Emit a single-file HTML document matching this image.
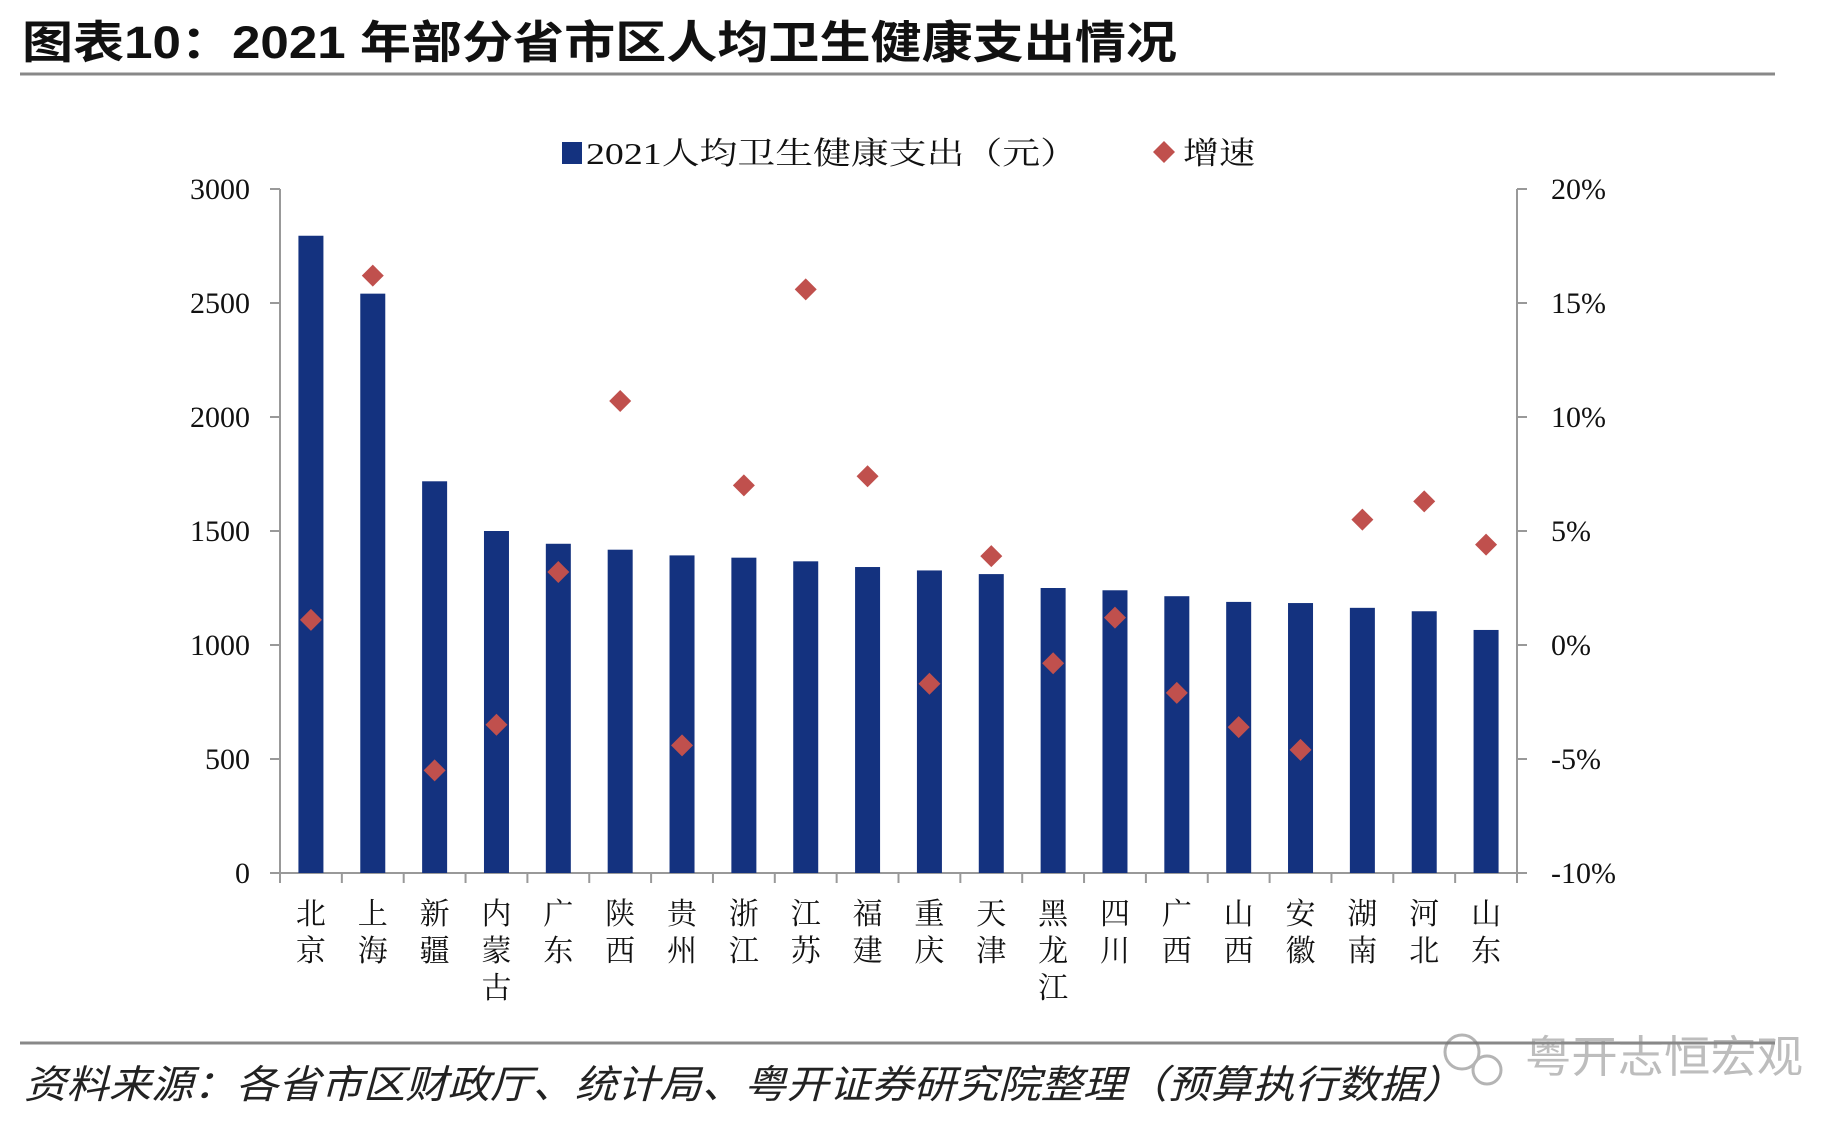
<!DOCTYPE html>
<html><head><meta charset="utf-8"><style>
body{margin:0;background:#fff;width:1828px;height:1130px;overflow:hidden}
svg{display:block}
</style></head><body>
<svg id="chart" width="1828" height="1130" xmlns="http://www.w3.org/2000/svg">
<text x="22" y="58" font-family="'Liberation Sans','Noto Sans CJK SC',sans-serif" font-size="45" font-weight="bold" fill="#111" textLength="1155" lengthAdjust="spacingAndGlyphs">图表10：2021 年部分省市区人均卫生健康支出情况</text>
<line x1="20" y1="74" x2="1775" y2="74" stroke="#888" stroke-width="3"/>
<g font-family="'Liberation Serif','Noto Serif CJK SC',serif" font-size="31" fill="#111">
<rect x="562" y="142" width="20" height="22" fill="#14327f"/>
<text x="586" y="164" textLength="492" lengthAdjust="spacingAndGlyphs">2021人均卫生健康支出（元）</text>
<path d="M1164 141 L1175 152 L1164 163 L1153 152 Z" fill="#c0504d"/>
<text x="1183" y="164" textLength="72" lengthAdjust="spacingAndGlyphs">增速</text>
</g>
<g id="axes"></g>
<g id="bars"></g>
<g id="points"></g>
<line x1="20" y1="1043" x2="1775" y2="1043" stroke="#888" stroke-width="3"/>
<text x="24" y="1098" font-family="'Liberation Sans','Noto Sans CJK SC',sans-serif" font-size="39" font-style="italic" fill="#222" textLength="1440" lengthAdjust="spacingAndGlyphs">资料来源：各省市区财政厅、统计局、粤开证券研究院整理（预算执行数据）</text>
<g opacity="0.55">
<circle cx="1462" cy="1052" r="17" fill="none" stroke="#777" stroke-width="3"/>
<circle cx="1487" cy="1070" r="14" fill="none" stroke="#777" stroke-width="3"/>
<text x="1525" y="1072" font-family="'Liberation Sans','Noto Sans CJK SC',sans-serif" font-size="44" fill="#888" textLength="278" lengthAdjust="spacingAndGlyphs">粤开志恒宏观</text>
</g>
</svg>
<script>
const categories=[["北","京"],["上","海"],["新","疆"],["内","蒙","古"],["广","东"],["陕","西"],["贵","州"],["浙","江"],["江","苏"],["福","建"],["重","庆"],["天","津"],["黑","龙","江"],["四","川"],["广","西"],["山","西"],["安","徽"],["湖","南"],["河","北"],["山","东"]];
const spending=[2795,2541,1718,1500,1444,1418,1393,1383,1367,1342,1327,1311,1250,1240,1214,1189,1184,1163,1148,1066];
const growth=[1.1,16.2,-5.5,-3.5,3.2,10.7,-4.4,7.0,15.6,7.4,-1.7,3.9,-0.8,1.2,-2.1,-3.6,-4.6,5.5,6.3,4.4];
const leftTicks=[0,500,1000,1500,2000,2500,3000];
const rightTicks=[-10,-5,0,5,10,15,20];
const rightTickLabels=["-10%","-5%","0%","5%","10%","15%","20%"];

const NS="http://www.w3.org/2000/svg";
const X0=280,X1=1517,Y0=873,Y1=189;
const bandW=(X1-X0)/categories.length;
const yL=v=>Y0-(v-0)/(3000-0)*(Y0-Y1);
const yR=v=>Y0-(v+10)/30*(Y0-Y1);
const xC=i=>X0+bandW*(i+0.5);
function mk(tag,attrs,parent){const e=document.createElementNS(NS,tag);for(const k in attrs)e.setAttribute(k,attrs[k]);parent.appendChild(e);return e;}
const axes=document.getElementById('axes'),bars=document.getElementById('bars'),pts=document.getElementById('points');
const serif="'Liberation Serif','Noto Serif CJK SC',serif";
let e;
e=mk('line',{x1:X0,y1:Y1,x2:X0,y2:Y0,stroke:'#999','stroke-width':2},axes);


e=mk('line',{x1:X1,y1:Y1,x2:X1,y2:Y0,stroke:'#999','stroke-width':2},axes);


e=mk('line',{x1:X0-10,y1:Y0,x2:X1+10,y2:Y0,stroke:'#999','stroke-width':2},axes);


leftTicks.forEach(v=>{
  mk('line',{x1:X0-10,y1:yL(v),x2:X0,y2:yL(v),stroke:'#999','stroke-width':2},axes);
  e=mk('text',{x:250,y:yL(v)+10,'text-anchor':'end','font-family':serif,'font-size':30,fill:'#111'},axes);
  e.textContent=v;
  
  
});
rightTicks.forEach((v,i)=>{
  mk('line',{x1:X1,y1:yR(v),x2:X1+10,y2:yR(v),stroke:'#999','stroke-width':2},axes);
  e=mk('text',{x:X1+34,y:yR(v)+10,'font-family':serif,'font-size':30,fill:'#111'},axes);
  e.textContent=rightTickLabels[i];
  
  
});
for(let i=0;i<=categories.length;i++){
  const x=X0+bandW*i;
  mk('line',{x1:x,y1:Y0,x2:x,y2:Y0+10,stroke:'#999','stroke-width':2},axes);
}
categories.forEach((c,i)=>{
  c.forEach((ch,j)=>{
    e=mk('text',{x:xC(i),y:924+j*37,'text-anchor':'middle','font-family':serif,'font-size':30,fill:'#111'},axes);
    e.textContent=ch;
    
    
  });
});
spending.forEach((v,i)=>{
  e=mk('rect',{x:xC(i)-12.5,y:yL(v),width:25,height:Y0-yL(v),fill:'#14327f'},bars);
  
  
});
growth.forEach((v,i)=>{
  const x=xC(i),y=yR(v);
  e=mk('path',{d:`M${x} ${y-11} L${x+11} ${y} L${x} ${y+11} L${x-11} ${y} Z`,fill:'#c0504d'},pts);
  
  
});
</script>
</body></html>
